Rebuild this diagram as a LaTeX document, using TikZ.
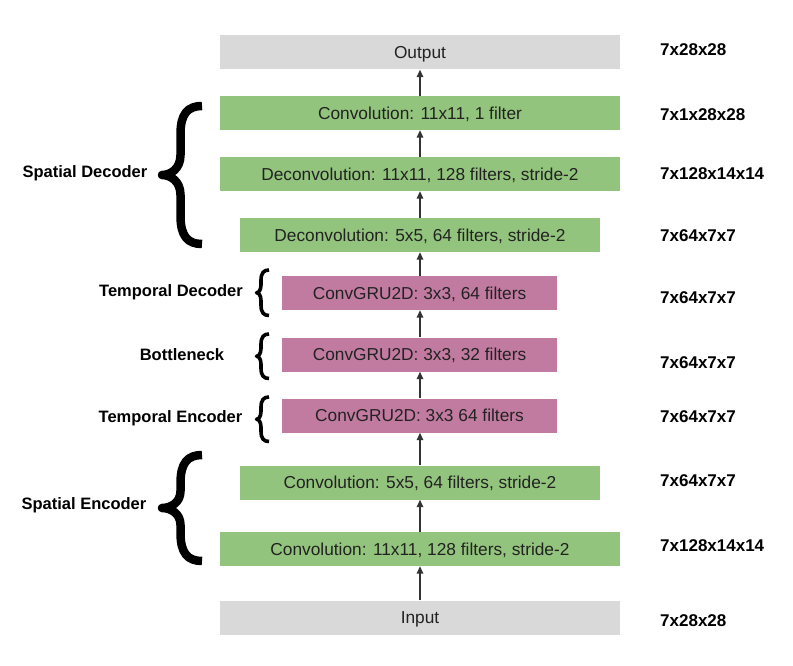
\documentclass[tikz,border=0pt]{standalone}
\usepackage{fontspec}
\setmainfont{Liberation Sans}
\usetikzlibrary{arrows.meta}
\definecolor{boxgreen}{HTML}{93C47D}
\definecolor{boxpink}{HTML}{C27BA0}
\definecolor{boxgray}{HTML}{D9D9D9}
\definecolor{txt}{HTML}{222222}
\definecolor{arr}{HTML}{333333}
% #1 style, #2 x right ends, #3 x vertical strokes, #4 x tip, #5 y top, #6 y bottom, #7 tip curve height
\newcommand\drawbrace[7]{%
  \pgfmathsetmacro\bym{(#5+#6)/2}%
  \pgfmathsetmacro\byh{1.3*(#2-#3)}%
  \pgfmathsetmacro\byc{0.35*(#2-#3)}%
  \pgfmathsetmacro\byt{0.45*(#3-#4)}%
  \draw[#1] (#2,#5) .. controls (#3+\byc,#5) and (#3,#5+\byc) .. (#3,#5+\byh)
     -- (#3,\bym-#7) .. controls (#3,\bym-0.3*#7) and (#4+\byt,\bym) .. (#4,\bym)
     .. controls (#4+\byt,\bym) and (#3,\bym+0.3*#7) .. (#3,\bym+#7)
     -- (#3,#6-\byh) .. controls (#3,#6-\byc) and (#3+\byc,#6) .. (#2,#6);}
\begin{document}
\begin{tikzpicture}[x=1pt,y=-1pt,
  layer/.style={minimum height=34pt, inner sep=0pt, text height=12.4pt, text depth=0pt,
     font=\fontsize{17.3}{20}\selectfont, text=txt},
  green/.style={layer, fill=boxgreen},
  pink/.style={layer, fill=boxpink},
  gray/.style={layer, fill=boxgray},
  dimlabel/.style={anchor=west, inner sep=0pt, font=\fontsize{17}{20}\selectfont\bfseries},
  grouplabel/.style={inner sep=0pt, font=\fontsize{16.5}{20}\selectfont\bfseries},
  conn/.style={draw=arr, line width=1.5pt, -{Triangle[length=7.5pt,width=6.5pt]}},
  bigbrace/.style={draw, line width=8.5pt, line join=round},
  smallbrace/.style={draw, line width=3.6pt, line join=round}]
\useasboundingbox (0,0) rectangle (793,666);
% layers
\node[gray,  minimum width=400pt] (out) at (420,52.5) {Output};
\node[green, minimum width=400pt] (c1)  at (420,113) {Convolution: 11x11, 1 filter};
\node[green, minimum width=400pt] (d1)  at (420,174) {Deconvolution: 11x11, 128 filters, stride-2};
\node[green, minimum width=360pt] (d2)  at (420,235) {Deconvolution: 5x5, 64 filters, stride-2};
\node[pink,  minimum width=275pt] (g1)  at (419.5,293) {ConvGRU2D: 3x3, 64 filters};
\node[pink,  minimum width=275pt] (g2)  at (419.5,354.5) {ConvGRU2D: 3x3, 32 filters};
\node[pink,  minimum width=275pt] (g3)  at (419.5,415.5) {ConvGRU2D: 3x3 64 filters};
\node[green, minimum width=360pt] (e2)  at (420,482.5) {Convolution: 5x5, 64 filters, stride-2};
\node[green, minimum width=400pt] (e1)  at (420,549) {Convolution: 11x11, 128 filters, stride-2};
\node[gray,  minimum width=400pt] (in)  at (420,617.5) {Input};
% connectors
\draw[conn] (in.north) -- (e1.south);
\draw[conn] (e1.north) -- (e2.south);
\draw[conn] (e2.north) -- (g3.south -| e2.north);
\draw[conn] (g3.north -| e2.north) -- (g2.south -| e2.north);
\draw[conn] (g2.north -| e2.north) -- (g1.south -| e2.north);
\draw[conn] (g1.north -| e2.north) -- (d2.south);
\draw[conn] (d2.north) -- (d1.south);
\draw[conn] (d1.north) -- (c1.south);
\draw[conn] (c1.north) -- (out.south);
% dimensions
\node[dimlabel] (s0) at (660,50)  {7x28x28};
\node[dimlabel] (s1) at (660,115) {7x1x28x28};
\node[dimlabel] (s2) at (660,174) {7x128x14x14};
\node[dimlabel] (s3) at (660,236) {7x64x7x7};
\node[dimlabel] (s4) at (660,298) {7x64x7x7};
\node[dimlabel] (s5) at (660,363) {7x64x7x7};
\node[dimlabel] (s6) at (660,417) {7x64x7x7};
\node[dimlabel] (s7) at (660,481) {7x64x7x7};
\node[dimlabel] (s8) at (660,546) {7x128x14x14};
\node[dimlabel] (s9) at (660,621) {7x28x28};
% group labels
\node[grouplabel] (lsd) at (85,173.5) {Spatial Decoder};
\node[grouplabel] (ltd) at (171,292.5) {Temporal Decoder};
\node[grouplabel] (lbn) at (182,354.5) {Bottleneck};
\node[grouplabel] (lte) at (170.5,418.5) {Temporal Encoder};
\node[grouplabel] (lse) at (84,505.5) {Spatial Encoder};
% braces
\drawbrace{bigbrace}{202}{180.5}{162}{106}{244}{20}
\drawbrace{bigbrace}{202}{180.5}{162}{455}{561}{17}
\drawbrace{smallbrace}{269}{261}{256.5}{270}{315.5}{8}
\drawbrace{smallbrace}{269}{261}{256.5}{334}{378.5}{8}
\drawbrace{smallbrace}{269}{261}{256.5}{397}{441.5}{8}
\end{tikzpicture}
\end{document}
